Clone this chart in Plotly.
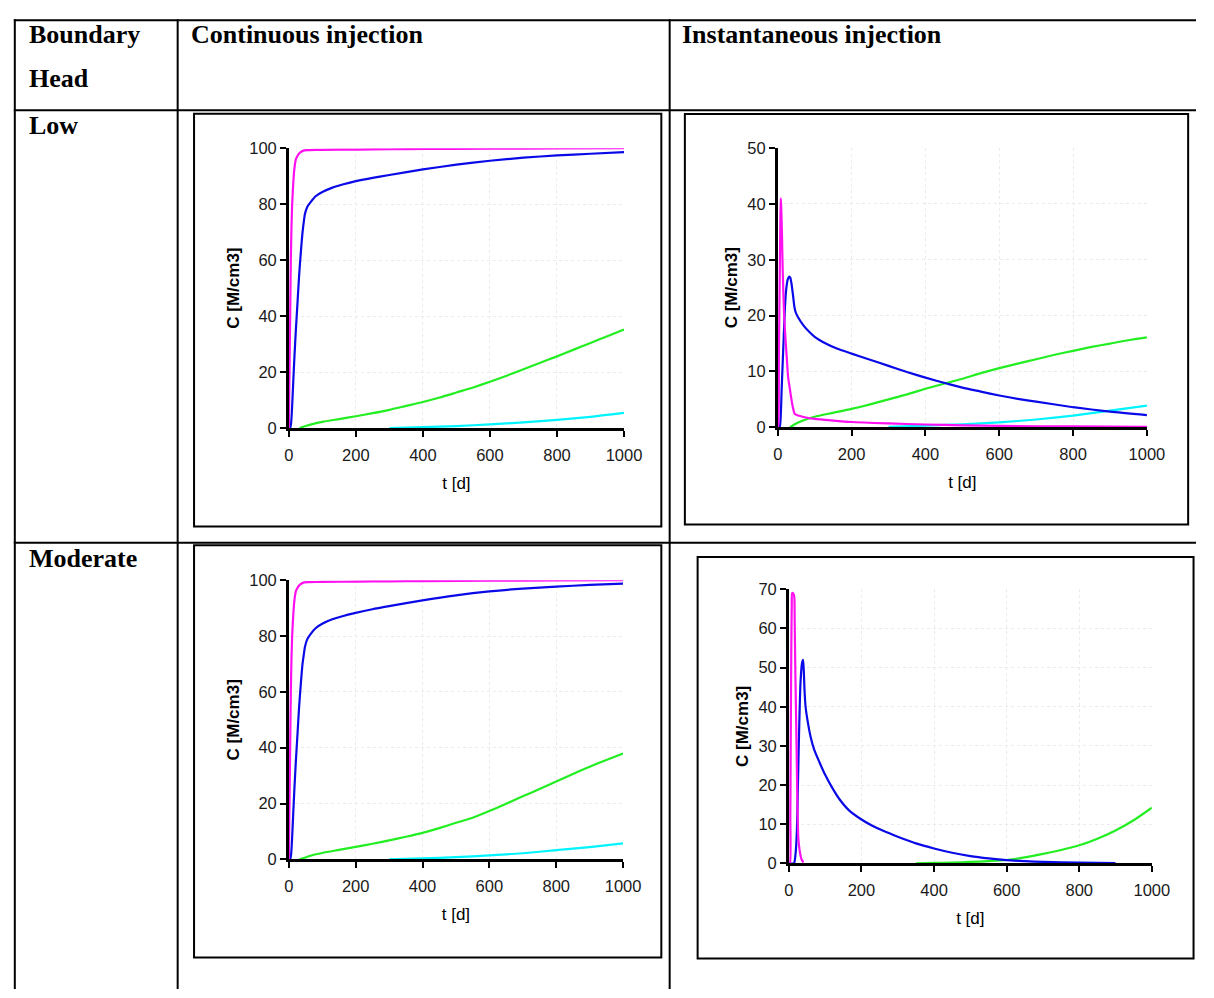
import plotly.graph_objects as go

# ---------------- data ----------------
# Low boundary head, continuous injection
lc_mag_t = [0, 2, 4, 6, 8, 10, 13, 16, 21, 25, 30, 38, 46, 60, 100, 200, 300, 400, 600, 800, 1000]
lc_mag_c = [0, 20, 40, 60, 72, 80, 87, 92, 96, 97, 98, 98.8, 99.2, 99.3, 99.4, 99.5, 99.6, 99.7, 99.8, 99.9, 100]
lc_blue_t = [0, 4, 7, 10, 13, 17, 21, 26, 31, 36, 41, 45, 48, 55, 65, 80, 100, 130, 160, 200, 250, 300, 400, 500, 600, 700, 800, 900, 1000]
lc_blue_c = [0, 0, 2, 8, 16, 26, 35, 45, 55, 63, 70, 74, 76.5, 79, 80.7, 82.8, 84.3, 85.9, 87, 88.2, 89.4, 90.4, 92.4, 94.1, 95.5, 96.6, 97.4, 98.0, 98.6]
lc_green_t = [32, 50, 70, 100, 150, 200, 250, 300, 350, 400, 450, 500, 550, 600, 650, 700, 750, 800, 850, 900, 950, 1000]
lc_green_c = [0, 0.7, 1.4, 2.2, 3.2, 4.2, 5.3, 6.5, 7.9, 9.3, 10.9, 12.7, 14.5, 16.5, 18.7, 21.0, 23.3, 25.6, 28.0, 30.4, 32.8, 35.2]
lc_cyan_t = [300, 400, 500, 600, 700, 800, 900, 1000]
lc_cyan_c = [0, 0.3, 0.7, 1.3, 2.0, 2.9, 4.0, 5.4]

# Low boundary head, instantaneous injection
li_mag_t = [0, 1, 3, 5, 7, 8, 9, 11.4, 13, 15, 17, 19.4, 24, 28, 32.7, 37, 41.5, 46, 55, 70, 100, 150, 200, 300, 400, 500, 600, 800, 1000]
li_mag_c = [0, 0, 13, 25, 37, 41, 40, 34.4, 29, 24.4, 20.5, 17.4, 12.8, 9, 6.9, 5, 3.4, 2.4, 2.1, 1.85, 1.5, 1.2, 0.95, 0.7, 0.5, 0.35, 0.25, 0.15, 0.1]
li_blue_t = [0, 5, 8, 10.6, 13, 16, 19.4, 23, 27, 31, 34, 37, 41, 45, 48, 55, 70, 85, 100, 130, 160, 200, 250, 300, 350, 400, 460, 500, 550, 600, 650, 700, 800, 900, 1000]
li_blue_c = [0, 0, 2, 6.9, 11, 16, 21.5, 24.8, 26.5, 27.0, 26.8, 25.8, 23.8, 21.6, 20.7, 19.7, 18.2, 17.1, 16.2, 15.0, 14.1, 13.2, 12.1, 11.0, 9.9, 8.9, 7.8, 7.1, 6.4, 5.7, 5.1, 4.6, 3.6, 2.8, 2.2]
li_green_t = [33, 45, 60, 80, 100, 150, 200, 250, 300, 350, 400, 450, 500, 550, 600, 650, 700, 750, 800, 850, 900, 950, 1000]
li_green_c = [0, 0.5, 1.0, 1.5, 1.9, 2.6, 3.3, 4.1, 5.0, 5.9, 6.9, 7.8, 8.7, 9.7, 10.6, 11.4, 12.2, 13.0, 13.7, 14.4, 15.0, 15.6, 16.1]
li_cyan_t = [300, 400, 500, 600, 700, 800, 900, 1000]
li_cyan_c = [0.1, 0.3, 0.55, 0.9, 1.4, 2.1, 3.0, 3.9]

# Moderate boundary head, continuous injection
mc_mag_t = [0, 2, 4, 6, 8, 10, 13, 16, 21, 25, 30, 38, 46, 60, 100, 200, 300, 400, 600, 800, 1000]
mc_mag_c = [0, 20, 40, 60, 72, 80, 87, 92, 96, 97, 98, 98.8, 99.2, 99.3, 99.4, 99.5, 99.6, 99.7, 99.8, 99.9, 100]
mc_blue_t = [0, 4, 7, 10, 13, 17, 21, 26, 31, 36, 41, 45, 48, 55, 65, 80, 100, 130, 160, 200, 250, 300, 400, 500, 600, 700, 800, 900, 1000]
mc_blue_c = [0, 0, 2, 8, 16, 26, 35, 45, 55, 63, 70, 73.5, 76, 78.8, 80.7, 82.8, 84.4, 86.0, 87.1, 88.3, 89.6, 90.7, 92.8, 94.6, 96.0, 97.0, 97.7, 98.3, 98.8]
mc_green_t = [32, 50, 70, 100, 150, 200, 250, 300, 350, 400, 450, 500, 550, 600, 650, 700, 750, 800, 850, 900, 950, 1000]
mc_green_c = [0, 0.7, 1.5, 2.3, 3.4, 4.5, 5.6, 6.8, 8.1, 9.5, 11.2, 13.1, 14.9, 17.3, 19.9, 22.6, 25.2, 27.9, 30.6, 33.2, 35.6, 37.9]
mc_cyan_t = [300, 400, 500, 600, 700, 800, 900, 1000]
mc_cyan_c = [0, 0.35, 0.8, 1.4, 2.2, 3.3, 4.4, 5.7]

# Moderate boundary head, instantaneous injection
mi_mag_t = [0, 3, 4, 5, 6, 7, 8, 9, 12, 15, 16, 18, 20, 22, 24, 26, 28, 31, 35, 40]
mi_mag_c = [0, 0, 12, 28, 45, 58, 66, 69, 69, 68, 62, 48, 37, 25, 13, 6.5, 4.5, 2.5, 1.0, 0.2]
mi_blue_t = [0, 14, 18, 22, 25, 28, 32, 36, 39, 41, 43, 46, 50, 60, 70, 84, 100, 120, 140, 165, 200, 230, 260, 300, 350, 400, 450, 500, 550, 600, 650, 700, 800, 900]
mi_blue_c = [0, 0, 2, 8, 20, 33, 46, 51, 52, 49.5, 44.5, 40, 37.3, 32.3, 29.0, 25.9, 22.6, 19.2, 16.3, 13.6, 11.2, 9.6, 8.3, 6.8, 5.1, 3.8, 2.7, 1.85, 1.25, 0.8, 0.55, 0.35, 0.15, 0.05]
mi_green_t = [350, 400, 450, 500, 550, 600, 650, 700, 750, 800, 850, 900, 950, 1000]
mi_green_c = [0, 0.1, 0.2, 0.35, 0.55, 0.85, 1.5, 2.4, 3.4, 4.6, 6.3, 8.4, 11.0, 14.2]

x_ticks = [0, 200, 400, 600, 800, 1000]
x_title = "t [d]"
y_title = "<b>C [M/cm3]</b>"
col_headers = ["Continuous injection", "Instantaneous injection"]
row_header = ["Boundary", "Head"]
row_labels = ["Low", "Moderate"]

# ---------------- styling ----------------
MAG, BLUE, GREEN, CYAN = "#FF10F0", "#0A0AE8", "#22EE22", "#00F4FF"
W, H = 1214, 998


def px(x):
    return x / W


def py(y):
    return 1 - y / H


panels = [
    dict(xd=(289.3, 631.0), yd=(141.7, 426.7), ymax=100, dt=20,
         series=[(lc_cyan_t, lc_cyan_c, CYAN), (lc_green_t, lc_green_c, GREEN),
                 (lc_blue_t, lc_blue_c, BLUE), (lc_mag_t, lc_mag_c, MAG)]),
    dict(xd=(787.7, 1164.0), yd=(141.7, 426.0), ymax=50, dt=10,
         series=[(li_cyan_t, li_cyan_c, CYAN), (li_green_t, li_green_c, GREEN),
                 (li_blue_t, li_blue_c, BLUE), (li_mag_t, li_mag_c, MAG)]),
    dict(xd=(289.3, 630.0), yd=(581.7, 866.0), ymax=100, dt=20,
         series=[(mc_cyan_t, mc_cyan_c, CYAN), (mc_green_t, mc_green_c, GREEN),
                 (mc_blue_t, mc_blue_c, BLUE), (mc_mag_t, mc_mag_c, MAG)]),
    dict(xd=(799.0, 1169.0), yd=(591.0, 870.0), ymax=70, dt=10,
         series=[(mi_green_t, mi_green_c, GREEN), (mi_blue_t, mi_blue_c, BLUE),
                 (mi_mag_t, mi_mag_c, MAG)]),
]

fig = go.Figure()
tick_font = dict(family="Liberation Sans, Arial, sans-serif", size=16.5, color="#1a1a1a")
title_font = dict(family="Liberation Sans, Arial, sans-serif", size=17, color="#000")
GRID = "#ebebeb"

layout = {}
for i, p in enumerate(panels, start=1):
    xa = "x" if i == 1 else f"x{i}"
    ya = "y" if i == 1 else f"y{i}"
    for t, c, col in p["series"]:
        fig.add_trace(go.Scatter(x=t, y=c, mode="lines", xaxis=xa, yaxis=ya,
                                 line=dict(color=col, width=2.2, shape="spline", smoothing=0.6),
                                 hoverinfo="skip"))
    ytv = list(range(0, p["ymax"] + 1, p["dt"]))
    layout[f"xaxis{i}"] = dict(
        domain=[px(p["xd"][0]), px(p["xd"][1])], anchor=ya, range=[0, 1000],
        tickvals=x_ticks, ticks="outside", ticklen=6, tickwidth=2, tickcolor="#000",
        showline=True, linewidth=2.5, linecolor="#000", zeroline=False,
        showgrid=True, gridcolor=GRID, griddash="3px,3px", gridwidth=1,
        tickfont=tick_font, ticklabelstandoff=4,
        title=dict(text=x_title, font=title_font, standoff=15),
    )
    layout[f"yaxis{i}"] = dict(
        domain=[py(p["yd"][1]), py(p["yd"][0])], anchor=xa, range=[0, p["ymax"]],
        tickvals=ytv, ticks="outside", ticklen=6, tickwidth=2, tickcolor="#000",
        showline=True, linewidth=2.5, linecolor="#000", zeroline=False,
        showgrid=True, gridcolor=GRID, griddash="3px,3px", gridwidth=1,
        tickfont=tick_font, ticklabelstandoff=0,
        title=dict(text=y_title, font=title_font, standoff=6),
    )
    # overlay axes for the inner half of the crossing tick marks
    layout[f"xaxis{i + 4}"] = dict(
        overlaying=xa, anchor=ya, range=[0, 1000], tickvals=x_ticks, ticks="inside",
        ticklen=6, tickwidth=2, tickcolor="#000", showticklabels=False,
        showgrid=False, zeroline=False, showline=False)
    layout[f"yaxis{i + 4}"] = dict(
        overlaying=ya, anchor=xa, range=[0, p["ymax"]], tickvals=ytv, ticks="inside",
        ticklen=6, tickwidth=2, tickcolor="#000", showticklabels=False,
        showgrid=False, zeroline=False, showline=False)

# table rules and chart frames
shapes = []
for y in (11.5, 103, 543.5):
    shapes.append(dict(type="line", xref="paper", yref="paper", x0=px(9), x1=px(1214),
                       y0=py(y), y1=py(y), line=dict(color="#000", width=2)))
for x in (10, 176, 677.5):
    shapes.append(dict(type="line", xref="paper", yref="paper", x0=px(x), x1=px(x),
                       y0=py(10.5), y1=py(998), line=dict(color="#000", width=2)))
frames = [(192.7, 106.7, 669, 527), (693, 107, 1206, 525), (192.7, 546, 669, 966), (706, 558, 1211.5, 967)]
for x0, y0, x1, y1 in frames:
    shapes.append(dict(type="rect", xref="paper", yref="paper", x0=px(x0), x1=px(x1),
                       y0=py(y1), y1=py(y0), line=dict(color="#000", width=2)))

serif = dict(family="Liberation Serif, Times New Roman, serif", size=26, color="#000")
ann = []


def head(text, x, baseline):
    ann.append(dict(text=f"<b>{text}</b>", xref="paper", yref="paper", x=px(x), y=py(baseline - 10.5),
                    xanchor="left", yanchor="middle", showarrow=False, font=serif))


head(row_header[0], 22, 36.7)
head(row_header[1], 22, 81.7)
head(col_headers[0], 188, 36.7)
head(col_headers[1], 688.5, 36.7)
head(row_labels[0], 22, 129)
head(row_labels[1], 22, 570.5)

fig.update_layout(width=W, height=H, autosize=False, margin=dict(l=0, r=0, t=0, b=0),
                  paper_bgcolor="white", plot_bgcolor="white", showlegend=False,
                  shapes=shapes, annotations=ann, **layout)
fig.write_html("out.html")
